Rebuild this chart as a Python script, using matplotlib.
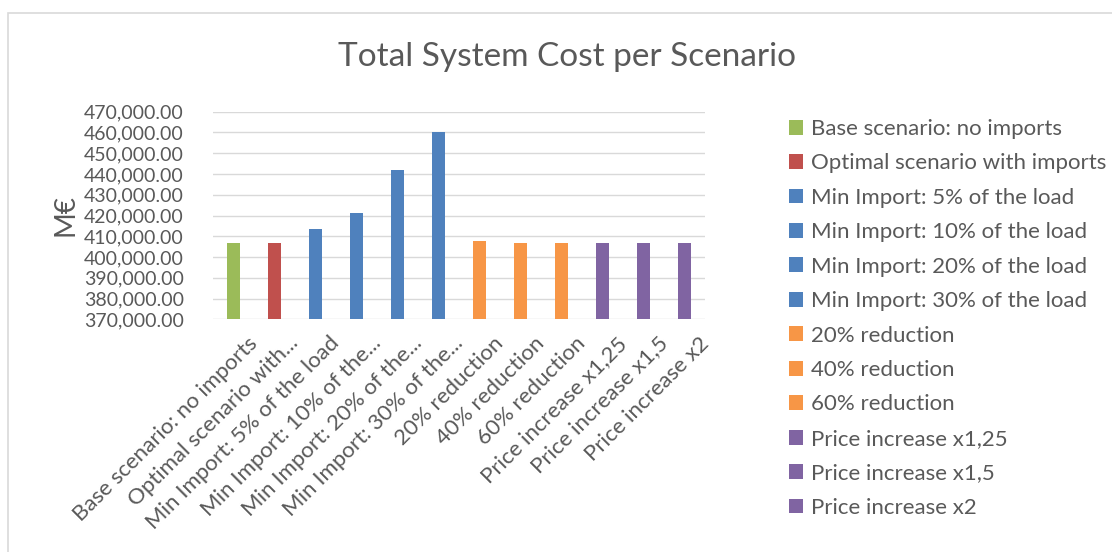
import matplotlib
matplotlib.use("Agg")
import matplotlib.pyplot as plt
import matplotlib.transforms as mtransforms
from matplotlib.patches import Rectangle
from matplotlib.ticker import FuncFormatter

# --- Data ---
scenarios = [
    "Base scenario: no imports",
    "Optimal scenario with imports",
    "Min Import: 5% of the load",
    "Min Import: 10% of the load",
    "Min Import: 20% of the load",
    "Min Import: 30% of the load",
    "20% reduction",
    "40% reduction",
    "60% reduction",
    "Price increase x1,25",
    "Price increase x1,5",
    "Price increase x2",
]
tick_labels = [
    "Base scenario: no imports",
    "Optimal scenario with...",
    "Min Import: 5% of the load",
    "Min Import: 10% of the...",
    "Min Import: 20% of the...",
    "Min Import: 30% of the...",
    "20% reduction",
    "40% reduction",
    "60% reduction",
    "Price increase x1,25",
    "Price increase x1,5",
    "Price increase x2",
]
costs = [406600, 406600, 413300, 421300, 441800, 460000,
         407700, 406600, 406600, 406600, 406600, 406600]
colors = ["#9BBB59", "#C0504D", "#4F81BD", "#4F81BD", "#4F81BD", "#4F81BD",
          "#F79646", "#F79646", "#F79646", "#8064A2", "#8064A2", "#8064A2"]

TEXT = "#595959"
plt.rcParams["font.family"] = ["Lato", "DejaVu Sans"]

fig = plt.figure(figsize=(11.12, 5.52), dpi=100)
ax = fig.add_axes([213 / 1112, 1 - 319.3 / 552, 492 / 1112, (319.3 - 111.7) / 552])

for i, (name, val, col) in enumerate(zip(scenarios, costs, colors)):
    ax.bar(i, val, width=0.32, color=col, label=name, zorder=3)

ax.set_xlim(-0.5, len(scenarios) - 0.5)
ax.set_ylim(370000, 470000)
ax.set_yticks(range(370000, 470001, 10000))
ax.yaxis.set_major_formatter(FuncFormatter(lambda v, p: f"{v:,.2f}"))
ax.grid(axis="y", color="#D9D9D9", linewidth=1.0, zorder=0)
ax.set_axisbelow(True)
for s in ax.spines.values():
    s.set_visible(False)
ax.tick_params(axis="both", length=0, colors=TEXT)
ax.tick_params(axis="y", pad=21, labelsize=14)
ax.set_xticks(range(len(scenarios)))
ax.set_xticklabels(tick_labels, rotation=45, ha="right", rotation_mode="anchor")
ax.tick_params(axis="x", pad=10, labelsize=16)

# excel puts the rotated labels a bit to the right of the tick
shift = mtransforms.ScaledTranslation(14 / 100, 0, fig.dpi_scale_trans)
for lbl in ax.get_xticklabels():
    lbl.set_transform(lbl.get_transform() + shift)

ax.set_ylabel("M€", fontsize=20, color=TEXT, labelpad=4)

fig.text(567 / 1112, 1 - 57 / 552, "Total System Cost per Scenario",
         ha="center", va="center", fontsize=24, color=TEXT)

ax.legend(loc="upper left", bbox_to_anchor=(780 / 1112, 1 - 110 / 552),
          bbox_transform=fig.transFigure, frameon=False, fontsize=16,
          handlelength=0.65, handleheight=0.65, handletextpad=0.35,
          labelspacing=0.65, labelcolor=TEXT, borderaxespad=0)

# chart-area border (only top and left visible in the original crop)
fig.patches.append(Rectangle((8 / 1112, -0.1), 1.2, 1 - 13 / 552 + 0.1,
                             transform=fig.transFigure, fill=False,
                             edgecolor="#D9D9D9", linewidth=1.2))

fig.savefig("out.png", dpi=100)
